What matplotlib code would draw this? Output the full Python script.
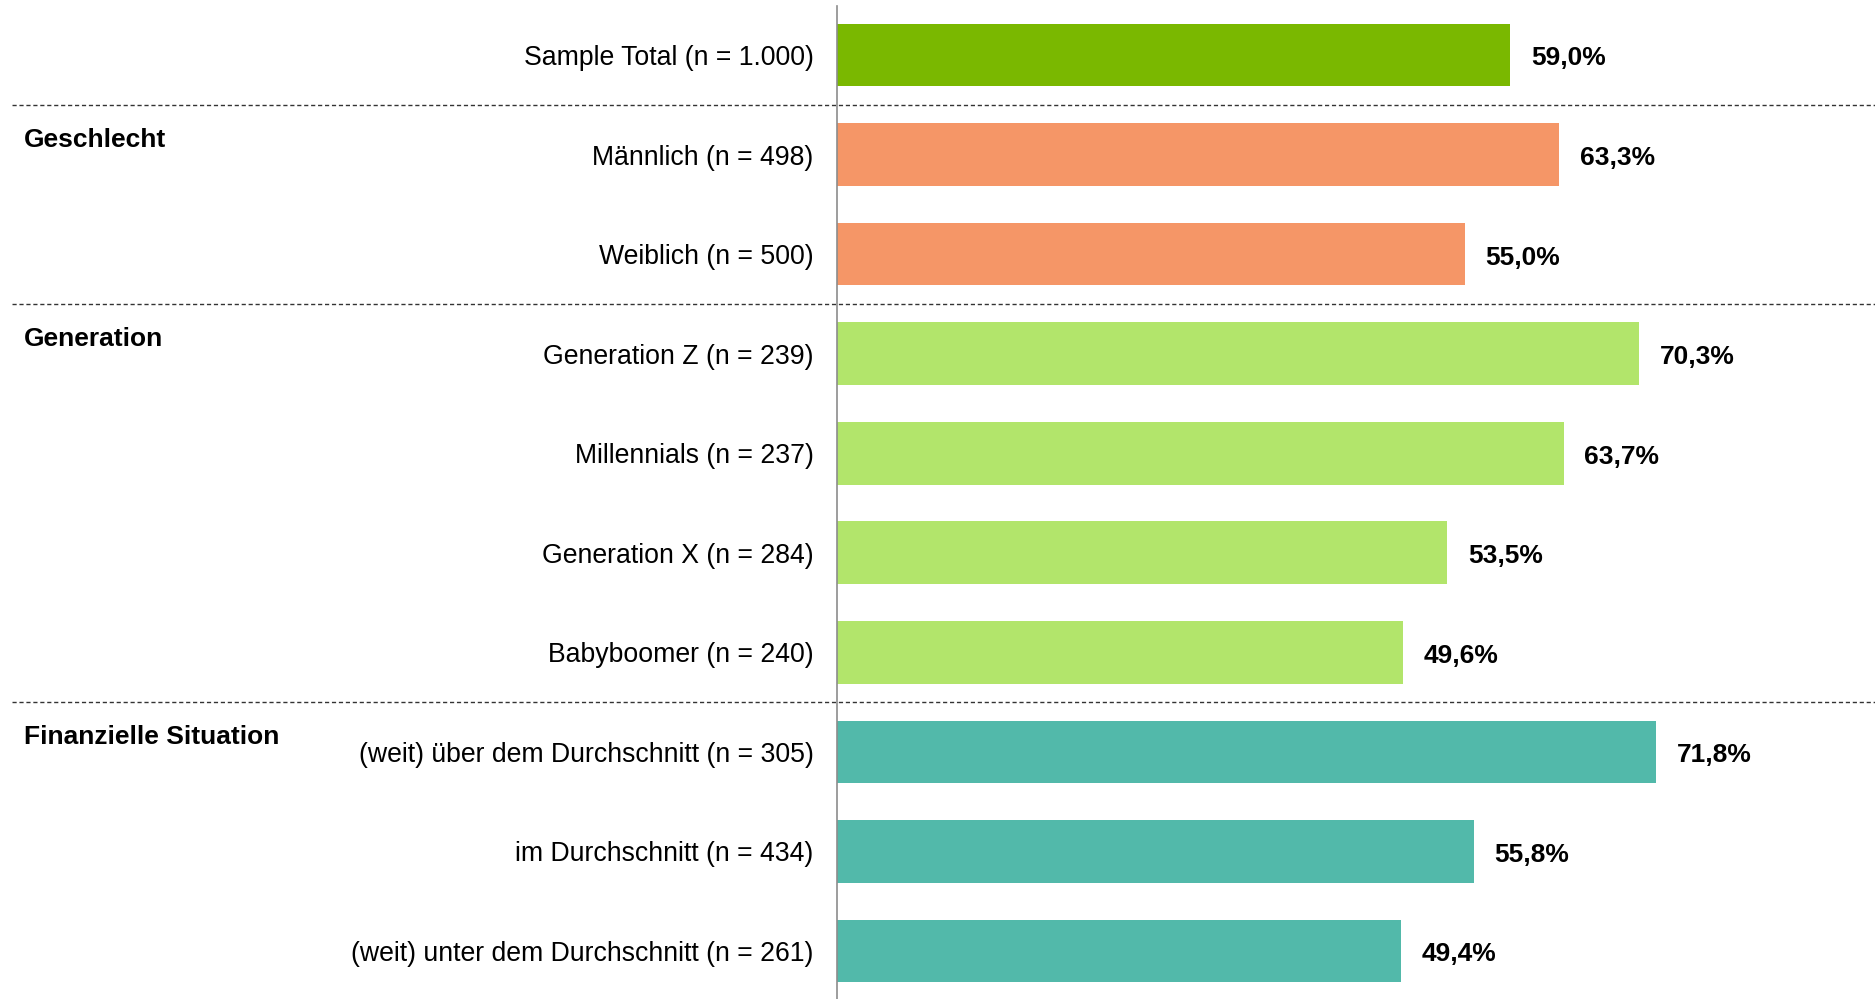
import matplotlib
matplotlib.use("Agg")
import matplotlib.pyplot as plt
import matplotlib.transforms as mtransforms

plt.rcParams['font.family'] = ['Liberation Sans', 'DejaVu Sans']

# data
categories = ["Sample Total (n = 1.000)",
              "Männlich (n = 498)", "Weiblich (n = 500)",
              "Generation Z (n = 239)", "Millennials (n = 237)",
              "Generation X (n = 284)", "Babyboomer (n = 240)",
              "(weit) über dem Durchschnitt (n = 305)",
              "im Durchschnitt (n = 434)",
              "(weit) unter dem Durchschnitt (n = 261)"]
values = [59.0, 63.3, 55.0, 70.3, 63.7, 53.5, 49.6, 71.8, 55.8, 49.4]
groups = ["total", "sex", "sex", "gen", "gen", "gen", "gen", "fin", "fin", "fin"]
group_titles = {"sex": "Geschlecht", "gen": "Generation", "fin": "Finanzielle Situation"}
colors = {"total": "#7AB800", "sex": "#F59667", "gen": "#B2E56B", "fin": "#52B9AA"}

W, H = 1875, 999
fig = plt.figure(figsize=(W / 100, H / 100), dpi=100)
x0 = 837
ax = fig.add_axes([x0 / W, 0, 1 - x0 / W, 993 / H])

rows = list(range(len(values)))
ax.barh(rows, values, height=0.63, color=[colors[g] for g in groups])
ax.set_xlim(0, (W - x0) / 11.41)
ax.set_ylim(rows[-1] + (999 - 951) / 99.55, -49 / 99.55)

for s in ["top", "right", "bottom"]:
    ax.spines[s].set_visible(False)
ax.spines["left"].set_color("#8C8C8C")
ax.spines["left"].set_linewidth(1.2)
ax.set_xticks([])
ax.set_yticks(rows)
ax.set_yticklabels(categories, fontsize=19.2)
ax.tick_params(axis="y", length=0, pad=17)

for r, v in zip(rows, values):
    ax.text(v + 1.8, r + 0.035, f"{v:.1f}".replace(".", ",") + "%", va="center", ha="left",
            fontsize=19, fontweight="bold")

# group separators and titles
trans = mtransforms.blended_transform_factory(fig.transFigure, ax.transData)
for i in range(1, len(groups)):
    if groups[i] != groups[i - 1]:
        ax.axhline(i - 0.5, xmin=(12 - x0) / (W - x0), xmax=1, color="#333333",
                   lw=1, ls=(0, (3, 2)), clip_on=False)
        ax.text(24 / W, i - 0.15, group_titles[groups[i]], transform=trans,
                ha="left", va="center", fontsize=19, fontweight="bold")

fig.savefig("out.png", dpi=100)
